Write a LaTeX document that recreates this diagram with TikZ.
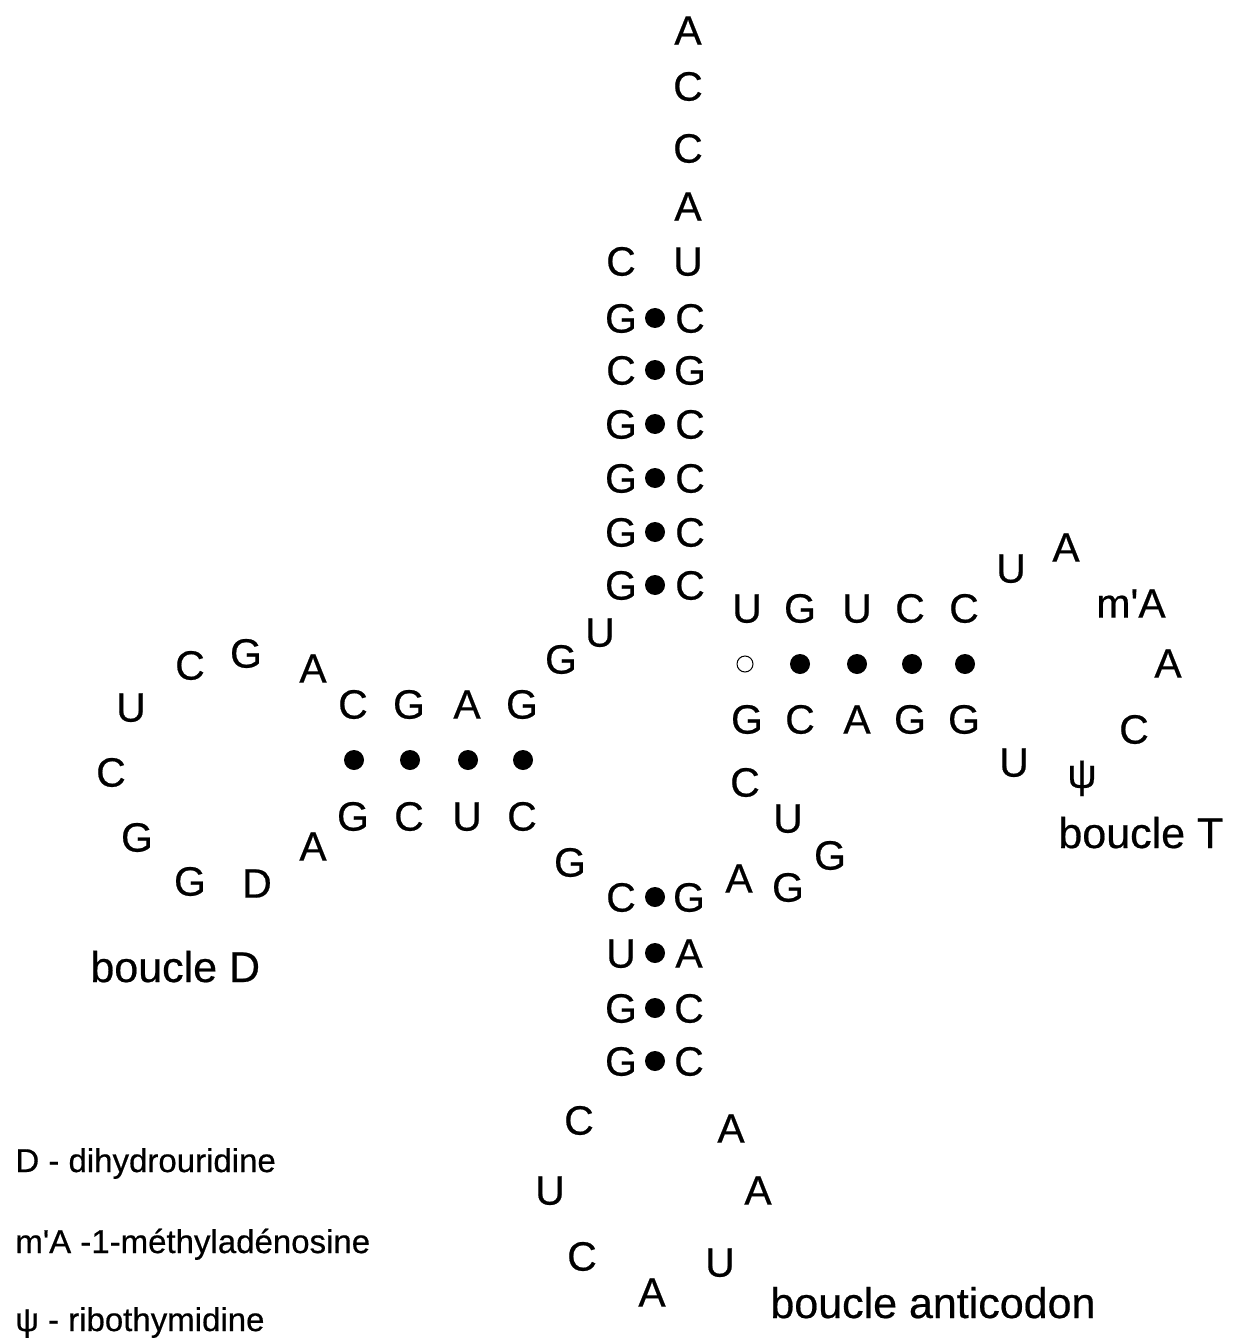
\documentclass[tikz,border=0pt]{standalone}
\usepackage{fontspec}
\setmainfont{Liberation Sans}[FakeBold=0.5]
\tikzset{
  nt/.style={inner sep=0pt, font=\fontsize{20.5}{20.5}\selectfont, text height=14.6pt, text depth=0pt},
  bp/.style={circle, fill, inner sep=0pt, minimum size=10pt},
  wobble/.style={circle, draw, line width=0.5pt, inner sep=0pt, minimum size=8pt},
  loopname/.style={inner sep=0pt, anchor=base west, font=\fontsize{21.5}{21.5}\selectfont},
  legend/.style={inner sep=0pt, anchor=base west, font=\fontsize{16.5}{16.5}\selectfont}
}
\begin{document}
\begin{tikzpicture}[x=0.5pt, y=-0.5pt]
        \useasboundingbox (0,0) rectangle (1236,1342);

        % 3' end and first base of the 5' end
        \foreach \b/\y [count=\i] in {A/30,C/86,C/148,A/206,U/261}
            \node[nt] (tail\i) at (688,\y) {\b};
        \node[nt] (head) at (621,261) {C};

        % acceptor stem
        \foreach \l/\r/\y [count=\i] in {G/C/318,C/G/370,G/C/424,G/C/478,G/C/532,G/C/585} {
            \node[nt] (accL\i) at (621,\y) {\l};
            \node[bp] (accP\i) at (655,\y) {};
            \node[nt] (accR\i) at (690,\y) {\r};
        }
        \node[nt] (link1) at (600,632) {U};
        \node[nt] (link2) at (561,659) {G};

        % D stem
        \foreach \t/\b/\x [count=\i] in {C/G/353,G/C/409,A/U/467,G/C/522} {
            \node[nt] (dTop\i) at (\x,704) {\t};
            \node[bp] (dP\i) at (\x+1,760) {};
            \node[nt] (dBot\i) at (\x,816) {\b};
        }

        % D loop
        \foreach \b/\x/\y [count=\i] in {A/313/668,G/246/653,C/190/665,U/131/707,C/111/772,G/137/837,G/190/881,D/257/883,A/313/846}
            \node[nt] (dLoop\i) at (\x,\y) {\b};
        \node[loopname] (dName) at (90,982) {boucle D};
        \node[nt] (link3) at (570,862) {G};

        % anticodon stem
        \foreach \l/\r/\y [count=\i] in {C/G/897,U/A/953,G/C/1008,G/C/1061} {
            \node[nt] (acL\i) at (621,\y) {\l};
            \node[bp] (acP\i) at (655,\y) {};
            \node[nt] (acR\i) at (689,\y) {\r};
        }

        % anticodon loop
        \foreach \b/\x/\y [count=\i] in {C/579/1120,U/550/1190,C/582/1256,A/652/1292,U/720/1262,A/758/1190,A/731/1128}
            \node[nt] (acLoop\i) at (\x,\y) {\b};
        \node[loopname] (acName) at (770,1318) {boucle anticodon};

        % variable loop
        \foreach \b/\x/\y [count=\i] in {A/739/878,G/788/887,G/830/855,U/788/818,C/745/782}
            \node[nt] (var\i) at (\x,\y) {\b};

        % T stem, the first pair is G-U
        \foreach \t/\b/\x [count=\i] in {U/G/747,G/C/800,U/A/857,C/G/910,C/G/964} {
            \node[nt] (tTop\i) at (\x,608) {\t};
            \node[nt] (tBot\i) at (\x,719) {\b};
        }
        \node[wobble] (tP1) at (745,664) {};
        \foreach \x [count=\i from 2] in {800,857,912,965}
            \node[bp] (tP\i) at (\x,664) {};

        % T loop
        \foreach \b/\x/\y [count=\i] in {U/1014/762,ψ/1082/773,C/1134/729,A/1168/663,m\textquotesingle A/1131/603,A/1066/547,U/1011/568}
            \node[nt] (tLoop\i) at (\x,\y) {\b};
        \node[loopname] (tName) at (1058,848) {boucle T};

        % legend
        \node[legend] (key1) at (15,1172) {D - dihydrouridine};
        \node[legend] (key2) at (15,1253) {m\textquotesingle A -1-méthyladénosine};
        \node[legend] (key3) at (15,1331) {ψ - ribothymidine};
\end{tikzpicture}
\end{document}
